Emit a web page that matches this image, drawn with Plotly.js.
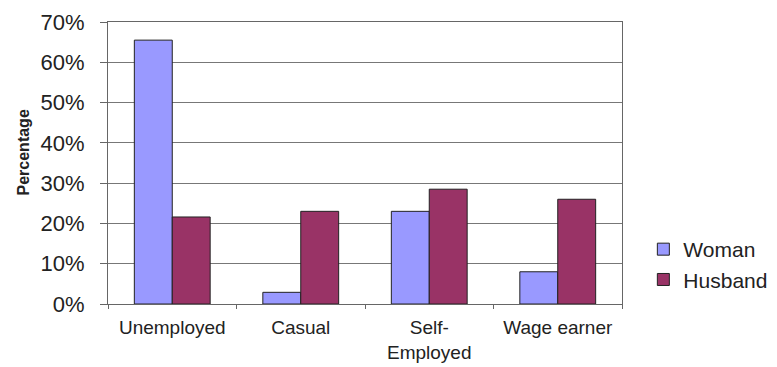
<!DOCTYPE html>
<html>
<head>
<meta charset="utf-8">
<script src="https://cdn.plot.ly/plotly-3.0.1.min.js"></script>
<style>html,body{margin:0;padding:0;background:#fff;}#chart{width:777px;height:367px;}</style>
</head>
<body>
<div id="chart"></div>
<script>
const categories = ["Unemployed", "Casual", "Self-<br>Employed", "Wage earner"];
const womanValues = [65.5, 2.9, 23.0, 8.0];
const husbandValues = [21.6, 23.0, 28.5, 26.0];
const yTickValues = [0, 10, 20, 30, 40, 50, 60, 70];
const yTickLabels = ["0%", "10%", "20%", "30%", "40%", "50%", "60%", "70%"];
const yAxisTitle = "Percentage";

const font = "Liberation Sans, Arial, sans-serif";

const traces = [
  {type: "bar", name: "Woman", x: categories, y: womanValues,
   marker: {color: "#9999FF", line: {color: "#222", width: 1}}},
  {type: "bar", name: "Husband", x: categories, y: husbandValues,
   marker: {color: "#993366", line: {color: "#222", width: 1}}}
];

const layout = {
  width: 777, height: 367,
  margin: {l: 108, r: 155, t: 22, b: 63, autoexpand: false},
  paper_bgcolor: "#fff", plot_bgcolor: "#fff",
  barmode: "group", bargap: 0.41, bargroupgap: 0,
  font: {family: font, color: "#222"},
  showlegend: true,
  legend: {xref: "container", x: 0.828, xanchor: "left", y: 0.14, yanchor: "middle",
           font: {size: 21, color: "#222"}, tracegroupgap: 0, itemwidth: 30},
  xaxis: {type: "category", showline: true, linecolor: "#666", linewidth: 1, mirror: true,
          ticks: "outside", tickson: "boundaries", ticklen: 4, tickcolor: "#666",
          ticklabelstandoff: 6,
          tickfont: {size: 19, color: "#222"}, showgrid: false},
  yaxis: {range: [0, 70], tickvals: yTickValues, ticktext: yTickLabels,
          showline: true, linecolor: "#666", linewidth: 1, mirror: true,
          ticks: "outside", ticklen: 7, tickcolor: "#666",
          gridcolor: "#777", gridwidth: 1,
          tickfont: {size: 22, color: "#222"},
          ticklabelstandoff: 11},
  annotations: [
    {text: "<b>" + yAxisTitle + "</b>", textangle: -90, showarrow: false,
     xref: "paper", yref: "paper", x: -0.165, y: 0.538, xanchor: "center", yanchor: "middle",
     font: {size: 16, color: "#222"}}
  ]
};

Plotly.newPlot("chart", traces, layout, {displayModeBar: false, staticPlot: true});
</script>
</body>
</html>
